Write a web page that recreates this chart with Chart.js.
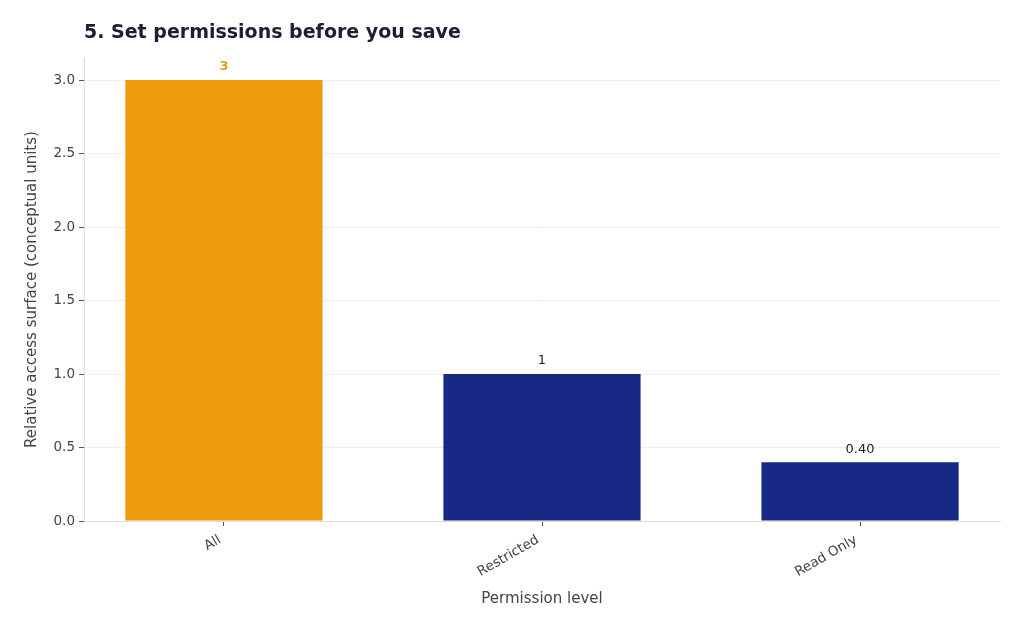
<!DOCTYPE html>
<html>
<head>
<meta charset="utf-8">
<script src="https://cdn.jsdelivr.net/npm/chart.js@4"></script>
<style>
  html, body { margin: 0; padding: 0; background: #ffffff; }
  #wrap { width: 1024px; height: 631px; position: relative; }
</style>
</head>
<body>
<div id="wrap"><canvas id="c"></canvas></div>
<script>
const categories = ['All', 'Restricted', 'Read Only'];
const values = [3, 1, 0.4];
const valueLabels = ['3', '1', '0.40'];
const yTicks = [0, 0.5, 1.0, 1.5, 2.0, 2.5, 3.0];

const titleText = '5. Set permissions before you save';
const barColors = ['#EB9B0B', '#172885', '#172885'];
const valueLabelColors = ['#E6A014', '#222222', '#222222'];
const valueLabelBold = [true, false, false];
const FONT = "'DejaVu Sans', sans-serif";

const points = values.map((v, i) => ({ x: i, y: v }));

const overlay = {
  id: 'overlay',
  afterDatasetsDraw(chart) {
    const ctx = chart.ctx;
    const meta = chart.getDatasetMeta(0);
    ctx.save();
    ctx.textAlign = 'center';
    ctx.textBaseline = 'middle';
    meta.data.forEach((bar, i) => {
      ctx.font = (valueLabelBold[i] ? 'bold ' : '') + '13px ' + FONT;
      ctx.fillStyle = valueLabelColors[i];
      ctx.fillText(valueLabels[i], bar.x, bar.y - 13);
    });
    ctx.restore();
  },
  afterDraw(chart) {
    const ctx = chart.ctx;
    ctx.save();
    ctx.font = 'bold 19px ' + FONT;
    ctx.fillStyle = '#1b1f33';
    ctx.textAlign = 'left';
    ctx.textBaseline = 'middle';
    ctx.fillText(titleText, chart.chartArea.left, 33);
    ctx.restore();
  }
};

new Chart(document.getElementById('c'), {
  type: 'bar',
  data: {
    datasets: [{
      data: points,
      backgroundColor: barColors,
      borderWidth: 0,
      barPercentage: 0.62,
      categoryPercentage: 1.0
    }]
  },
  options: {
    responsive: true,
    maintainAspectRatio: false,
    animation: false,
    layout: { padding: { top: 58, right: 24, left: 0, bottom: 0 } },
    plugins: {
      legend: { display: false },
      tooltip: { enabled: false },
      title: { display: false }
    },
    scales: {
      x: {
        type: 'linear',
        min: -0.44,
        max: 2.44,
        offset: false,
        afterBuildTicks(scale) {
          scale.ticks = categories.map((_, i) => ({ value: i }));
        },
        afterFit(scale) { scale.height = 110; },
        ticks: {
          autoSkip: false,
          minRotation: 30,
          maxRotation: 30,
          padding: 6,
          labelOffset: -4,
          color: '#444444',
          font: { family: FONT, size: 13.5 },
          callback: (v) => categories[v]
        },
        grid: {
          offset: false,
          drawOnChartArea: false,
          drawTicks: true,
          tickLength: 5,
          tickColor: '#555555'
        },
        border: { display: true, color: '#dddddd', width: 1 },
        title: {
          display: true,
          text: 'Permission level',
          color: '#444444',
          font: { family: FONT, size: 15 },
          padding: { top: 0, bottom: 23 }
        }
      },
      y: {
        min: 0,
        max: 3.15,
        afterBuildTicks(scale) {
          scale.ticks = yTicks.map(v => ({ value: v }));
        },
        afterFit(scale) { scale.width = 84; },
        ticks: {
          color: '#444444',
          padding: 4,
          font: { family: FONT, size: 13.5 },
          callback: (v) => v.toFixed(1)
        },
        grid: {
          color: '#eeeeee',
          lineWidth: 1,
          tickLength: 5,
          tickColor: '#555555'
        },
        border: { display: true, color: '#dddddd', width: 1 },
        title: {
          display: true,
          text: 'Relative access surface (conceptual units)',
          color: '#444444',
          font: { family: FONT, size: 15 },
          padding: { top: 23, bottom: 0 }
        }
      }
    }
  },
  plugins: [overlay]
});
</script>
</body>
</html>
